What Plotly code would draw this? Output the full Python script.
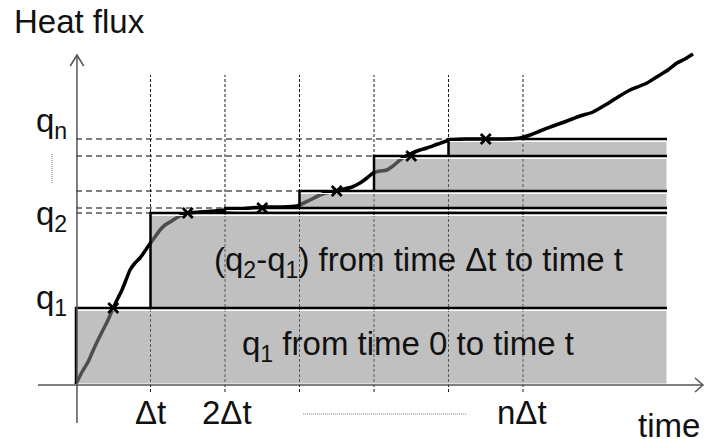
import plotly.graph_objects as go

# ---- data (time in units of Δt, heat flux in arbitrary units) ----
curve_t = [0, 0.081, 0.161, 0.215, 0.282, 0.362, 0.430, 0.5, 0.564, 0.617, 0.671, 0.725,
           0.792, 0.859, 0.926, 0.980, 1.060, 1.128, 1.195, 1.262, 1.369, 1.5, 1.664, 1.866,
           2.0, 2.201, 2.5, 2.738, 2.966, 3.141, 3.275, 3.409, 3.544, 3.705, 3.812, 3.906,
           3.987, 4.081, 4.174, 4.255, 4.349, 4.430, 4.510, 4.617, 4.711, 4.859, 5.020, 5.221,
           5.517, 5.758, 5.960, 6.094, 6.228, 6.403, 6.591, 6.765, 6.940, 7.128, 7.275, 7.436,
           7.570, 7.664, 7.772, 7.839, 7.946, 8.067, 8.174, 8.282]
curve_q = [0, 1.2, 2.2, 3.1, 4.2, 5.4, 6.4, 7.6, 8.6, 9.4, 10.4, 11.4,
           12.1, 12.6, 13.3, 13.9, 14.7, 15.4, 15.9, 16.2, 16.7, 17.1, 17.2, 17.3,
           17.4, 17.5, 17.7, 17.7, 17.8, 18.4, 18.9, 19.2, 19.4, 19.7, 20.1, 20.6,
           21.1, 21.3, 21.4, 21.8, 22.4, 22.8, 23.1, 23.4, 23.6, 24.0, 24.4, 24.5,
           24.5, 24.5, 24.6, 24.9, 25.3, 25.8, 26.3, 26.8, 27.2, 28.0, 28.7, 29.4,
           29.8, 30.1, 30.6, 30.9, 31.4, 32.1, 32.5, 33.0]

step_start = [0, 1, 2, 3, 4, 5]
step_level = [7.6, 17.1, 17.6, 19.3, 22.8, 24.5]
step_end = 7.933
mid_t = [0.5, 1.5, 2.5, 3.5, 4.5, 5.5]

grid_t = [1, 2, 3, 4, 5, 6]
x_labels = ["Δt", "2Δt", "nΔt"]
x_label_t = [1.0, 2.03, 5.98]
y_labels = ["q<sub>n</sub>", "q<sub>2</sub>", "q<sub>1</sub>"]
y_label_q = [26.1, 16.8, 8.4]

FONT = "Liberation Sans, Arial, sans-serif"
FS = 33
TXT = "#111111"

fig = go.Figure()

# dashed guide lines (below the traces)
for t in grid_t:
    fig.add_shape(type="line", x0=t, x1=t, y0=-0.8, y1=30.9, layer="below",
                  line=dict(color="#1a1a1a", width=1, dash="3px,2px"))
for k in range(1, len(step_level)):
    fig.add_shape(type="line", x0=0, x1=step_start[k], y0=step_level[k], y1=step_level[k],
                  layer="below", line=dict(color="black", width=1.2, dash="6px,4px"))

# curve
fig.add_trace(go.Scatter(x=curve_t, y=curve_q, mode="lines",
                         line=dict(color="black", width=3.5, shape="spline", smoothing=0.6),
                         hoverinfo="skip"))

# stacked step rectangles (semi-transparent gray)
prev = 0
for ts, q in zip(step_start, step_level):
    top = q - 0.25
    fig.add_trace(go.Scatter(x=[ts, step_end, step_end, ts, ts],
                             y=[prev, prev, top, top, prev],
                             mode="lines", fill="toself",
                             fillcolor="rgba(140,140,140,0.55)",
                             line=dict(color="white", width=1), hoverinfo="skip"))
    prev = q

# black outlines of the steps
prev = 0
for ts, q in zip(step_start, step_level):
    fig.add_trace(go.Scatter(x=[ts, ts, step_end], y=[prev, q, q], mode="lines",
                             line=dict(color="black", width=2.5), hoverinfo="skip"))
    prev = q

# crosses at mid-interval
fig.add_trace(go.Scatter(x=mid_t, y=step_level, mode="markers",
                         marker=dict(symbol="x-thin", size=10, line=dict(color="black", width=2.8)),
                         hoverinfo="skip"))

# axes with open arrowheads
fig.add_trace(go.Scatter(x=[-0.51, 8.416], y=[-0.1, -0.1], mode="lines",
                         line=dict(color="#555555", width=1.5), hoverinfo="skip"))
fig.add_trace(go.Scatter(x=[8.309, 8.416, 8.309], y=[0.6, -0.1, -0.8], mode="lines",
                         line=dict(color="#555555", width=1.5), hoverinfo="skip"))
fig.add_trace(go.Scatter(x=[0.013, 0.013], y=[-3.9, 32.9], mode="lines",
                         line=dict(color="#555555", width=1.5), hoverinfo="skip"))
fig.add_trace(go.Scatter(x=[-0.077, 0.013, 0.103], y=[31.8, 32.9, 31.8], mode="lines",
                         line=dict(color="#555555", width=1.5), hoverinfo="skip"))

# dotted ellipsis lines
fig.add_trace(go.Scatter(x=[3.05, 5.25], y=[-3.0, -3.0], mode="lines",
                         line=dict(color="#777777", width=1, dash="1px,1px"), hoverinfo="skip"))
fig.add_trace(go.Scatter(x=[-0.322, -0.322], y=[20.1, 23.1], mode="lines",
                         line=dict(color="#777777", width=1, dash="1px,1px"), hoverinfo="skip"))

# texts
def txt(x, y, s, xanchor="center", yanchor="middle", xref="x", yref="y"):
    fig.add_annotation(x=x, y=y, text=s, showarrow=False, xref=xref, yref=yref,
                       xanchor=xanchor, yanchor=yanchor,
                       font=dict(family=FONT, size=FS, color=TXT))

for s, t in zip(x_labels, x_label_t):
    txt(t, -2.8, s)
for s, q in zip(y_labels, y_label_q):
    txt(-0.10, q, s, xanchor="right")
txt(8.40, -4.1, "time", xanchor="right")
txt(-0.86, 36.3, "Heat flux", xanchor="left")
txt(4.45, 3.8, "q<sub>1</sub> from time 0 to time t")
txt(4.6, 12.2, "(q<sub>2</sub>-q<sub>1</sub>) from time Δt to time t")

fig.update_layout(
    width=705, height=439, margin=dict(l=0, r=0, t=0, b=0),
    paper_bgcolor="white", plot_bgcolor="white", showlegend=False,
    xaxis=dict(range=[-1.0201, 8.4430], visible=False, fixedrange=True),
    yaxis=dict(range=[-5.5, 38.4], visible=False, fixedrange=True),
)

fig.write_html("out.html")
